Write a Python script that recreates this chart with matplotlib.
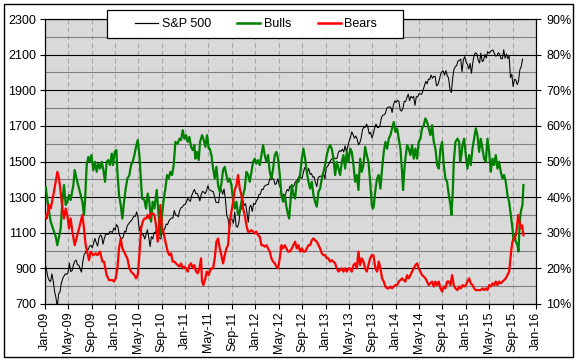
import numpy as np
import pandas as pd
import matplotlib
matplotlib.use("Agg")
import matplotlib.pyplot as plt
import matplotlib.dates as mdates
from matplotlib.patches import Rectangle
from matplotlib.lines import Line2D

plt.rcParams['font.family'] = ['Liberation Sans', 'DejaVu Sans']

# ---------------- data ----------------
# S&P 500 weekly closes, starting Fri 2009-01-02
sp500 = [
    931, 890, 850, 832, 826, 869, 827, 770, 735, 683, 756, 769, 816, 842, 857, 869, 866, 877, 929, 882,
    887, 919, 940, 946, 921, 918, 896, 879, 940, 979, 987, 1010, 1005, 1026, 1029, 1016, 1042, 1068, 1044, 1025,
    1071, 1087, 1080, 1036, 1069, 1093, 1091, 1091, 1106, 1106, 1102, 1126,
    1115,
    1145, 1136, 1092, 1074, 1066, 1075, 1109, 1104, 1139, 1150, 1160, 1167, 1179, 1194, 1192, 1217, 1187,
    1111, 1136, 1088, 1089, 1065, 1092, 1117, 1076, 1022, 1078, 1065, 1102, 1102, 1121, 1079, 1071, 1065,
    1105, 1110, 1125, 1149, 1146, 1166, 1176, 1183, 1183, 1225, 1199, 1199, 1189, 1225, 1240, 1244, 1256, 1258,
    1272, 1293, 1283, 1276, 1310, 1329, 1343, 1320, 1321, 1304, 1279, 1314, 1332, 1328, 1319, 1337, 1364,
    1340, 1338, 1333, 1331, 1300, 1271, 1271, 1268, 1339, 1344, 1316, 1345, 1292, 1199, 1178, 1123, 1177,
    1174, 1154, 1216, 1136, 1131, 1155, 1224, 1238, 1285, 1253, 1263, 1216, 1159, 1244, 1255, 1219, 1265, 1258,
    1278, 1289, 1315, 1316, 1344, 1342, 1361, 1366, 1370, 1371, 1404, 1397, 1408, 1398, 1370, 1378, 1403,
    1369, 1353, 1295, 1318, 1278, 1325, 1343, 1335, 1362, 1354, 1357, 1363, 1386, 1391, 1405, 1418, 1411, 1406,
    1438, 1466, 1460, 1441, 1461, 1428, 1433, 1412, 1414, 1380, 1359, 1409, 1416, 1418, 1413, 1430, 1402,
    1466, 1472, 1486, 1503, 1513, 1518, 1520, 1516, 1518, 1551, 1561, 1557, 1569, 1553, 1588, 1555, 1582,
    1614, 1634, 1667, 1650, 1631, 1643, 1626, 1593, 1606, 1632, 1680, 1692, 1692, 1710, 1691, 1655, 1664, 1633,
    1655, 1688, 1710, 1692, 1690, 1704, 1745, 1760, 1762, 1771, 1798, 1805, 1806, 1805, 1775, 1818, 1841,
    1831, 1843, 1839, 1790, 1783, 1797, 1838, 1836, 1859, 1878, 1841, 1866, 1857, 1865, 1815, 1864, 1863,
    1881, 1878, 1878, 1900, 1924, 1950, 1936, 1963, 1961, 1985, 1968, 1978, 1978, 1925, 1931, 1955, 1988, 2003,
    2008, 1985, 2010, 1982, 1968, 1906, 1887, 1965, 2018, 2032, 2039, 2064, 2068, 2075, 2003, 2071, 2089,
    2058, 2045, 2019, 2051, 1995, 2055, 2097, 2110, 2105, 2071, 2053, 2108, 2061, 2067, 2102, 2081, 2117,
    2108, 2116, 2123, 2126, 2107, 2092, 2094, 2110, 2102, 2077, 2077, 2127, 2080, 2104, 2078, 2092, 1971, 1989,
    1921, 1961, 1958, 1932, 1951, 2015, 2033, 2075,
]

# Bulls (%) : months after Jan-2009, value
bull_months = [
    0.12, 0.40, 0.97, 1.54, 1.83, 2.11, 2.68, 2.97, 3.25, 3.54, 3.82, 4.11, 4.39, 4.85, 5.08, 5.53, 5.82, 6.10,
    6.39, 6.67, 6.84, 7.13, 7.41, 7.70, 7.93, 8.27, 8.56, 8.84, 9.13, 9.41, 9.70, 9.98, 10.27, 10.55, 10.84,
    11.12, 11.41, 11.63, 11.92, 12.21, 12.38, 12.66, 12.95, 13.23, 13.52, 13.80, 14.09,
    14.43, 14.72, 15.00, 15.29, 15.57, 15.86, 16.14, 16.43, 16.60, 17.00, 17.28, 17.57, 17.85, 18.14, 18.42,
    18.71, 19.11, 19.39, 19.73, 20.02, 20.25, 20.59, 20.87, 21.16, 21.44, 21.73, 22.01, 22.30, 22.70, 22.98,
    23.27, 23.55, 23.84, 24.13, 24.41, 24.70, 24.98, 25.27, 25.55, 25.72, 26.01, 26.29, 26.52, 26.86, 27.09,
    27.43, 27.72, 28.00,
    28.17, 28.46, 28.75, 29.03, 29.32, 29.60, 29.89, 30.17, 30.46, 30.74, 31.03, 31.31, 31.60, 31.88, 32.17,
    32.45, 32.74, 33.02, 33.31, 33.59, 33.88, 34.16, 34.45, 34.73, 35.02, 35.30, 35.59, 35.87, 36.16, 36.44,
    36.73, 37.01, 37.30, 37.58, 37.87, 38.15, 38.44, 38.73, 39.01, 39.30, 39.58, 39.87, 40.15, 40.44, 40.72,
    41.01, 41.29, 41.58, 41.75, 42.03,
    42.21, 42.49, 42.78, 43.06, 43.35, 43.63, 43.92, 44.20, 44.49, 44.77, 45.06, 45.34, 45.63, 45.91, 46.20,
    46.48, 46.77, 47.05, 47.34, 47.62, 47.91, 48.19, 48.48, 48.76, 49.05, 49.33, 49.62, 49.90, 50.19, 50.47,
    50.76, 51.04, 51.33, 51.61, 51.90, 52.19, 52.47, 52.76, 53.04, 53.33, 53.61, 53.90, 54.18, 54.47, 54.75,
    55.04, 55.32, 55.61, 55.89, 56.06,
    56.23, 56.40, 56.62, 56.80, 57.08, 57.37, 57.65, 57.94, 58.22, 58.51, 58.79, 59.08, 59.36, 59.65, 59.93,
    60.22, 60.50, 60.79, 61.07, 61.24, 61.47, 61.64, 61.93, 62.21, 62.50, 62.78, 63.07, 63.35, 63.64, 63.92,
    64.21, 64.49, 64.78, 65.06, 65.35, 65.63, 65.92, 66.21, 66.49, 66.78, 67.06, 67.35, 67.63, 67.92, 68.20,
    68.49, 68.77, 69.06, 69.34, 69.51, 69.74, 69.91, 70.20,
    70.54, 70.83, 71.00, 71.22, 71.40, 71.68, 71.97, 72.25, 72.54, 72.82, 73.11, 73.39, 73.68, 73.96, 74.25,
    74.53, 74.82, 75.10, 75.39, 75.67, 75.96, 76.24, 76.53, 76.81, 77.10, 77.38, 77.67, 77.95, 78.24, 78.52,
    78.81, 79.09, 79.38, 79.66, 79.95, 80.12, 80.35, 80.52, 80.81, 80.98, 81.20, 81.38, 81.66, 81.83,
]
bull_values = [
    42.9, 39.2, 33.1, 30.3, 28.9, 26.5, 31.2, 38.7, 43.4, 37.8, 38.7, 40.6, 39.2, 43.4, 47.6, 44.3, 42.4, 40.6,
    38.7, 35.0, 38.7, 49.0, 51.3, 49.9, 51.8, 47.6, 49.9, 47.1, 49.4, 48.0, 49.9, 47.6, 44.3, 49.9, 50.4,
    49.0, 52.2, 49.0, 52.7, 53.2, 47.1, 40.6, 37.8, 34.0, 38.7, 42.4, 45.2,
    46.2, 49.0, 49.9, 51.8, 54.1, 56.0, 51.8, 44.3, 39.6, 39.2, 36.8, 41.0, 38.7, 33.1, 38.7,
    36.8, 42.0, 35.9, 29.3, 35.0, 38.7, 42.4, 46.2, 45.2, 47.1, 46.2, 49.0, 55.5, 55.0, 56.4,
    56.0, 58.8, 56.4, 57.4, 55.5, 56.9, 54.1, 53.2, 54.6, 50.8, 52.7, 50.4, 55.5, 57.4, 56.4,
    54.1, 57.4, 53.6,
    53.6, 51.8, 48.0, 45.2, 48.5, 43.4, 41.5, 43.8, 47.6, 48.5, 46.2, 44.3, 45.2, 43.4, 39.2,
    36.8, 38.7, 35.0, 35.9, 38.7, 40.6, 42.4, 47.1, 46.2, 44.3, 47.1, 49.9, 50.8, 49.4, 50.4,
    49.0, 51.8, 54.6, 51.8, 49.9, 51.8, 47.1, 45.2, 48.0, 51.8, 52.7, 50.8, 46.2, 40.6, 38.7,
    40.6, 37.3, 35.0, 34.0, 39.6,
    43.4, 40.6, 39.6, 44.3, 44.3, 46.2, 50.8, 53.6, 50.8, 47.1, 44.3, 42.4, 44.3, 40.6, 38.7,
    37.3, 41.5, 42.4, 45.2, 47.1, 49.0, 51.8, 53.6, 54.6, 53.6, 50.8, 46.2, 49.9, 48.0, 46.2,
    49.9, 51.8, 48.0, 52.7, 49.9, 53.6, 52.7, 49.0, 44.3, 46.2, 42.0, 50.8, 47.1, 49.0, 54.1,
    51.8, 49.9, 44.3, 37.8, 36.8,
    37.3, 40.6, 43.4, 45.2, 46.2, 42.4, 48.0, 52.7, 55.5, 53.6, 56.4, 57.4, 59.3, 61.1, 58.3,
    59.3, 56.4, 53.6, 47.1, 42.0, 48.0, 50.8, 54.6, 53.6, 51.8, 54.6, 50.8, 53.6, 50.8, 55.5,
    56.4, 59.3, 60.2, 62.1, 61.1, 59.3, 57.4, 60.2, 55.5, 53.6, 49.0, 48.0, 53.6, 55.5, 49.0,
    45.2, 44.3, 40.6, 37.8, 35.0, 41.5, 49.9, 55.5,
    56.4, 55.5, 49.9, 51.8, 54.6, 56.4, 51.8, 48.0, 51.8, 49.0, 53.6, 56.4, 59.3, 57.4, 52.7,
    56.4, 53.6, 50.8, 49.9, 56.4, 52.7, 47.1, 50.8, 49.0, 51.8, 48.0, 49.9, 47.1, 45.2, 46.2,
    44.3, 40.6, 38.7, 35.0, 31.2, 27.9, 29.3, 27.5, 26.5, 24.7, 33.1, 35.9, 37.8, 43.4,
]

# Bears (%) : months after Jan-2009, value
bear_months = [
    0.12, 0.29, 0.69, 0.97, 1.43, 1.83, 2.11, 2.40, 2.68, 2.97, 3.25, 3.54, 3.82, 4.11, 4.39, 4.68, 5.08, 5.53,
    5.82, 6.10, 6.39, 6.67, 6.96, 7.53, 7.81, 8.27, 8.67, 8.95, 9.41, 9.81, 10.09, 10.55, 10.95, 11.52, 11.81,
    12.09, 12.38, 12.66, 12.95, 13.23, 13.52, 13.80, 14.09,
    14.43, 14.72, 15.00, 15.29, 15.57, 15.86, 16.14, 16.43, 16.71, 17.00, 17.28, 17.57, 17.85, 18.14, 18.42,
    18.71, 18.99, 19.28, 19.56, 19.73, 20.02, 20.25, 20.59, 20.99, 21.27, 21.56, 21.84, 22.13, 22.41, 22.70,
    22.98, 23.27, 23.55, 23.84, 24.13, 24.41, 24.70, 24.98, 25.27, 25.55, 25.84, 26.12, 26.41, 26.69, 26.86,
    27.09, 27.43, 27.66, 28.00,
    28.17, 28.46, 28.75, 29.03, 29.32, 29.60, 29.89, 30.17, 30.46, 30.74, 31.03, 31.31, 31.60, 31.88, 32.17,
    32.45, 32.74, 33.02, 33.31, 33.59, 33.88, 34.16, 34.45, 34.73, 35.02, 35.30, 35.59, 35.87, 36.16, 36.44,
    36.73, 37.01, 37.30, 37.58, 37.87, 38.15, 38.44, 38.73, 39.01, 39.30, 39.58, 39.87, 40.15, 40.44, 40.72,
    41.01, 41.29, 41.58, 41.86,
    42.21, 42.49, 42.78, 43.06, 43.35, 43.63, 43.92, 44.20, 44.49, 44.77, 45.06, 45.34, 45.63, 45.91, 46.20,
    46.48, 46.77, 47.05, 47.34, 47.62, 47.91, 48.19, 48.48, 48.76, 49.05, 49.33, 49.62, 49.90, 50.19, 50.47,
    50.76, 51.04, 51.33, 51.61, 51.90, 52.19, 52.47, 52.76, 53.04, 53.33, 53.61, 53.90, 54.18, 54.47, 54.75,
    55.04, 55.32, 55.61, 55.89, 56.17,
    56.51, 56.80, 57.08, 57.37, 57.65, 57.94, 58.22, 58.51, 58.79, 59.08, 59.36, 59.65, 59.93, 60.22, 60.50,
    60.79, 61.07, 61.36, 61.64, 61.93, 62.21, 62.50, 62.78, 63.07, 63.35, 63.64, 63.92, 64.21, 64.49, 64.78,
    65.06, 65.35, 65.63, 65.92, 66.21, 66.49, 66.78, 67.06, 67.35, 67.63, 67.92, 68.20, 68.49, 68.77, 69.06,
    69.34, 69.63, 69.91, 70.20,
    70.54, 70.83, 71.11, 71.40, 71.68, 71.97, 72.25, 72.54, 72.82, 73.11, 73.39, 73.68, 73.96, 74.25, 74.53,
    74.82, 75.10, 75.39, 75.67, 75.96, 76.24, 76.53, 76.81, 77.10, 77.38, 77.67, 77.95, 78.24, 78.52, 78.81,
    79.09, 79.38, 79.55, 79.78, 79.95, 80.23, 80.52, 80.69, 80.92, 81.15, 81.38, 81.61, 81.83,
]
bear_values = [
    35.0, 34.0, 37.8, 36.8, 40.6, 44.3, 47.1, 45.2, 41.5, 36.8, 34.0, 36.8, 35.0, 31.2, 34.0, 30.3, 26.5, 29.3,
    31.2, 33.1, 35.0, 31.2, 26.5, 22.3, 24.7, 23.7, 24.2, 23.7, 24.7, 21.9, 21.9, 18.1, 16.7, 16.7, 16.3,
    17.2, 20.0, 25.6, 28.4, 25.6, 24.7, 23.7, 22.8,
    20.0, 19.1, 18.6, 18.1, 17.2, 18.1, 23.7, 31.2, 33.1, 34.0, 34.0, 35.0, 34.0, 35.4, 35.4,
    35.0, 32.1, 27.5, 32.6, 37.8, 31.2, 30.3, 27.5, 24.7, 23.7, 24.2, 21.9, 21.9, 21.4, 20.9,
    20.5, 21.4, 20.0, 20.5, 20.0, 19.1, 20.9, 21.4, 20.0, 20.9, 19.1, 18.6, 20.0, 22.8, 16.3,
    15.3, 17.2, 19.1, 18.1,
    19.1, 20.0, 20.0, 22.8, 27.5, 28.4, 25.6, 23.7, 21.4, 23.7, 25.6, 26.5, 33.1, 35.9, 38.7,
    42.0, 43.4, 46.2, 42.4, 40.6, 36.8, 35.0, 32.1, 30.3, 30.3, 30.7, 30.3, 29.8, 30.3, 29.3,
    28.9, 26.5, 26.5, 26.1, 26.5, 25.6, 24.7, 22.8, 21.9, 21.4, 20.5, 20.0, 22.8, 26.5, 25.6,
    26.5, 25.6, 24.7, 24.7,
    25.6, 26.5, 27.5, 25.6, 26.5, 24.7, 25.6, 24.7, 24.7, 25.6, 26.5, 26.5, 27.9, 28.4, 27.9,
    27.5, 26.5, 25.6, 24.2, 23.7, 23.7, 22.8, 22.8, 21.9, 22.3, 21.9, 21.4, 20.0, 19.1, 19.5,
    20.0, 19.1, 20.0, 19.1, 20.0, 20.0, 19.1, 20.9, 21.4, 20.0, 24.7, 20.9, 22.8, 21.9, 20.0,
    19.1, 20.9, 22.8, 23.7, 23.7,
    20.0, 19.1, 21.9, 20.0, 17.2, 16.3, 14.9, 14.4, 14.4, 14.9, 14.4, 14.9, 15.3, 15.3, 16.3,
    16.7, 17.2, 16.7, 16.3, 18.1, 17.2, 18.1, 19.1, 20.0, 20.9, 21.4, 20.0, 19.1, 18.1, 17.7,
    17.2, 16.3, 15.3, 15.8, 16.3, 14.9, 16.3, 15.3, 16.3, 14.4, 13.5, 14.9, 14.4, 16.3, 16.3,
    15.3, 18.1, 15.3, 14.4,
    13.9, 14.9, 14.4, 15.3, 14.9, 15.3, 16.3, 17.2, 15.8, 15.3, 14.4, 13.9, 13.9, 13.9, 13.9,
    14.4, 13.9, 14.4, 13.9, 15.3, 14.9, 15.8, 15.3, 16.3, 15.3, 16.3, 15.8, 16.3, 16.7, 17.2,
    18.1, 19.1, 21.9, 25.6, 27.5, 28.4, 29.3, 31.2, 35.0, 33.1, 31.2, 32.1, 29.3,
]

series_labels = ["S&P 500", "Bulls", "Bears"]
left_ticks = [700, 900, 1100, 1300, 1500, 1700, 1900, 2100, 2300]
right_ticks = [10, 20, 30, 40, 50, 60, 70, 80, 90]

# ---------------- figure ----------------
W, H = 578, 360
fig = plt.figure(figsize=(W / 100, H / 100), dpi=100)
fig.patch.set_facecolor('white')

ax = fig.add_axes([45 / W, 1 - 304 / H, 491 / W, 285 / H])
ax.set_facecolor('#d9d9d9')

start = mdates.date2num(pd.Timestamp('2009-01-01'))
end = mdates.date2num(pd.Timestamp('2016-01-01'))
sp_x = mdates.date2num(pd.date_range('2009-01-02', periods=len(sp500), freq='7D'))
bull_x = start + np.array(bull_months) * 30.4375
bear_x = start + np.array(bear_months) * 30.4375

ax.plot(sp_x, sp500, color='black', lw=0.75, zorder=3)
ax.set_xlim(start, end)
ax.set_ylim(700, 2300)

tick_dates = pd.date_range('2009-01-01', '2016-01-01', freq='4MS')
ax.set_xticks(mdates.date2num(tick_dates))
ax.set_xticklabels([d.strftime('%b-%y') for d in tick_dates], rotation=90)
ax.set_yticks(left_ticks)
ax.set_yticks([v + 100 for v in left_ticks[:-1]], minor=True)

ax.set_axisbelow(True)
ax.yaxis.grid(True, which='major', color='black', lw=0.8)
ax.yaxis.grid(True, which='minor', color='#808080', lw=0.8)
ax.xaxis.grid(True, color='#a6a6a6', lw=0.8, ls=(0, (4, 3)))
ax.tick_params(axis='both', which='major', direction='out', length=3.5, width=0.8,
               labelsize=9, colors='black')
ax.tick_params(axis='y', which='major', pad=3)
ax.tick_params(axis='x', which='major', pad=2)
ax.tick_params(axis='y', which='minor', length=0)
for s in ax.spines.values():
    s.set_color('black')
    s.set_linewidth(0.8)

ax2 = ax.twinx()
ax2.plot(bull_x, bull_values, color='#008000', lw=1.6, zorder=3)
ax2.plot(bear_x, bear_values, color='#ff0000', lw=1.6, zorder=4)
ax2.set_ylim(10, 90)
ax2.set_yticks(right_ticks)
ax2.set_yticklabels([f"{v}%" for v in right_ticks])
ax2.tick_params(axis='y', direction='out', length=3.5, width=0.8, labelsize=9, pad=4)
for s in ax2.spines.values():
    s.set_color('black')
    s.set_linewidth(0.8)

# legend box
fig.add_artist(Rectangle((107 / W, 1 - 38 / H), 296 / W, 28 / H, transform=fig.transFigure,
                         facecolor='white', edgecolor='black', lw=0.9, zorder=4))
handles = [Line2D([], [], color='black', lw=0.9),
           Line2D([], [], color='#008000', lw=1.8),
           Line2D([], [], color='#ff0000', lw=1.8)]
fig.legend(handles, series_labels, loc='center', bbox_to_anchor=(256 / W, 1 - 24 / H), ncol=3,
           frameon=False, fontsize=9, handlelength=1.85, handletextpad=0.3, columnspacing=2.1)

# outer frame
fig.add_artist(Rectangle((4 / W, 1 - 357 / H), 569 / W, 353 / H, transform=fig.transFigure,
                         fill=False, edgecolor='black', lw=1.0, zorder=6))

fig.savefig('out.png', dpi=100)
